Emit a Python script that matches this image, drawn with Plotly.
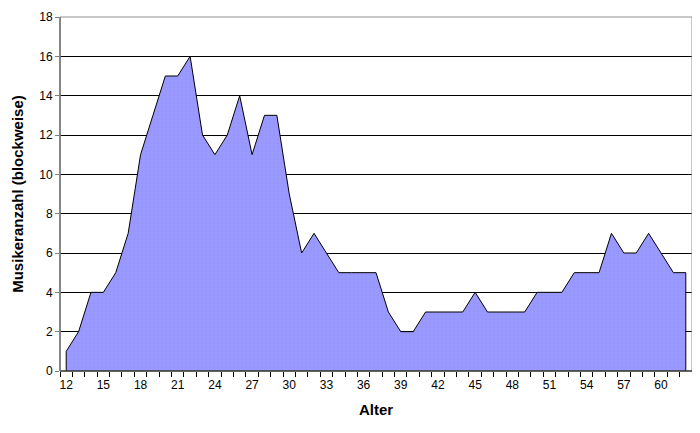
import plotly.graph_objects as go

ages = list(range(12, 63))
counts = [1, 2, 4, 4, 5, 7, 11, 13, 15, 15, 16, 12, 11, 12, 14, 11, 13, 13, 9, 6,
          7, 6, 5, 5, 5, 5, 3, 2, 2, 3, 3, 3, 3, 4, 3, 3, 3, 3, 4, 4,
          4, 5, 5, 5, 7, 6, 6, 7, 6, 5, 5]
x_ticks = list(range(12, 61, 3))
y_ticks = list(range(0, 19, 2))
boundaries = [a - 0.5 for a in ages] + [ages[-1] + 0.5]

xs = [ages[0]] + ages + [ages[-1]]
ys = [0] + counts + [0]

fig = go.Figure()
fig.add_trace(go.Scatter(
    x=xs, y=ys, mode="lines", fill="toself",
    fillcolor="#9999FF",
    fillpattern=dict(shape=".", fgcolor="#8A8AF2", bgcolor="#9999FF", size=4, solidity=0.15),
    line=dict(color="black", width=1),
    hoverinfo="skip", showlegend=False,
))
fig.add_trace(go.Scatter(x=[ages[0]], y=[0], xaxis="x2", mode="markers",
                         marker=dict(opacity=0), hoverinfo="skip", showlegend=False))

rng = [ages[0] - 0.5, ages[-1] + 0.5]
fig.update_layout(
    width=692, height=425,
    margin=dict(l=52, r=8, t=9, b=62),
    paper_bgcolor="white", plot_bgcolor="white",
    font=dict(family="Liberation Sans, Arial, sans-serif", size=12, color="black"),
    xaxis=dict(
        range=rng, tickvals=x_ticks, ticks="", showgrid=False, zeroline=False,
        showline=False, automargin=False,
        title=dict(text="<b>Alter</b>", font=dict(size=15), standoff=13),
        ticklabelstandoff=5,
    ),
    xaxis2=dict(
        range=rng, overlaying="x", side="bottom", anchor="y",
        tickvals=boundaries, ticks="outside", ticklen=5, tickcolor="black",
        showticklabels=False, showgrid=False, zeroline=False, showline=False,
        automargin=False,
    ),
    yaxis=dict(
        range=[0, 18], tickvals=y_ticks, ticks="outside", ticklen=4, tickcolor="#808080",
        showgrid=True, gridcolor="black", gridwidth=1, zeroline=False,
        showline=False, automargin=False,
        title=dict(text="<b>Musikeranzahl (blockweise)</b>", font=dict(size=15), standoff=11),
    ),
    shapes=[
        dict(type="rect", xref="paper", yref="paper", x0=0, x1=1, y0=0, y1=1,
             line=dict(color="#909090", width=1), layer="above"),
        dict(type="line", xref="paper", yref="paper", x0=0, x1=1, y0=0, y1=0,
             line=dict(color="black", width=1), layer="above"),
        dict(type="line", xref="paper", yref="paper", x0=0, x1=0, y0=0, y1=1,
             line=dict(color="#707070", width=1.5), layer="above"),
    ],
)

fig.write_html("out.html")
